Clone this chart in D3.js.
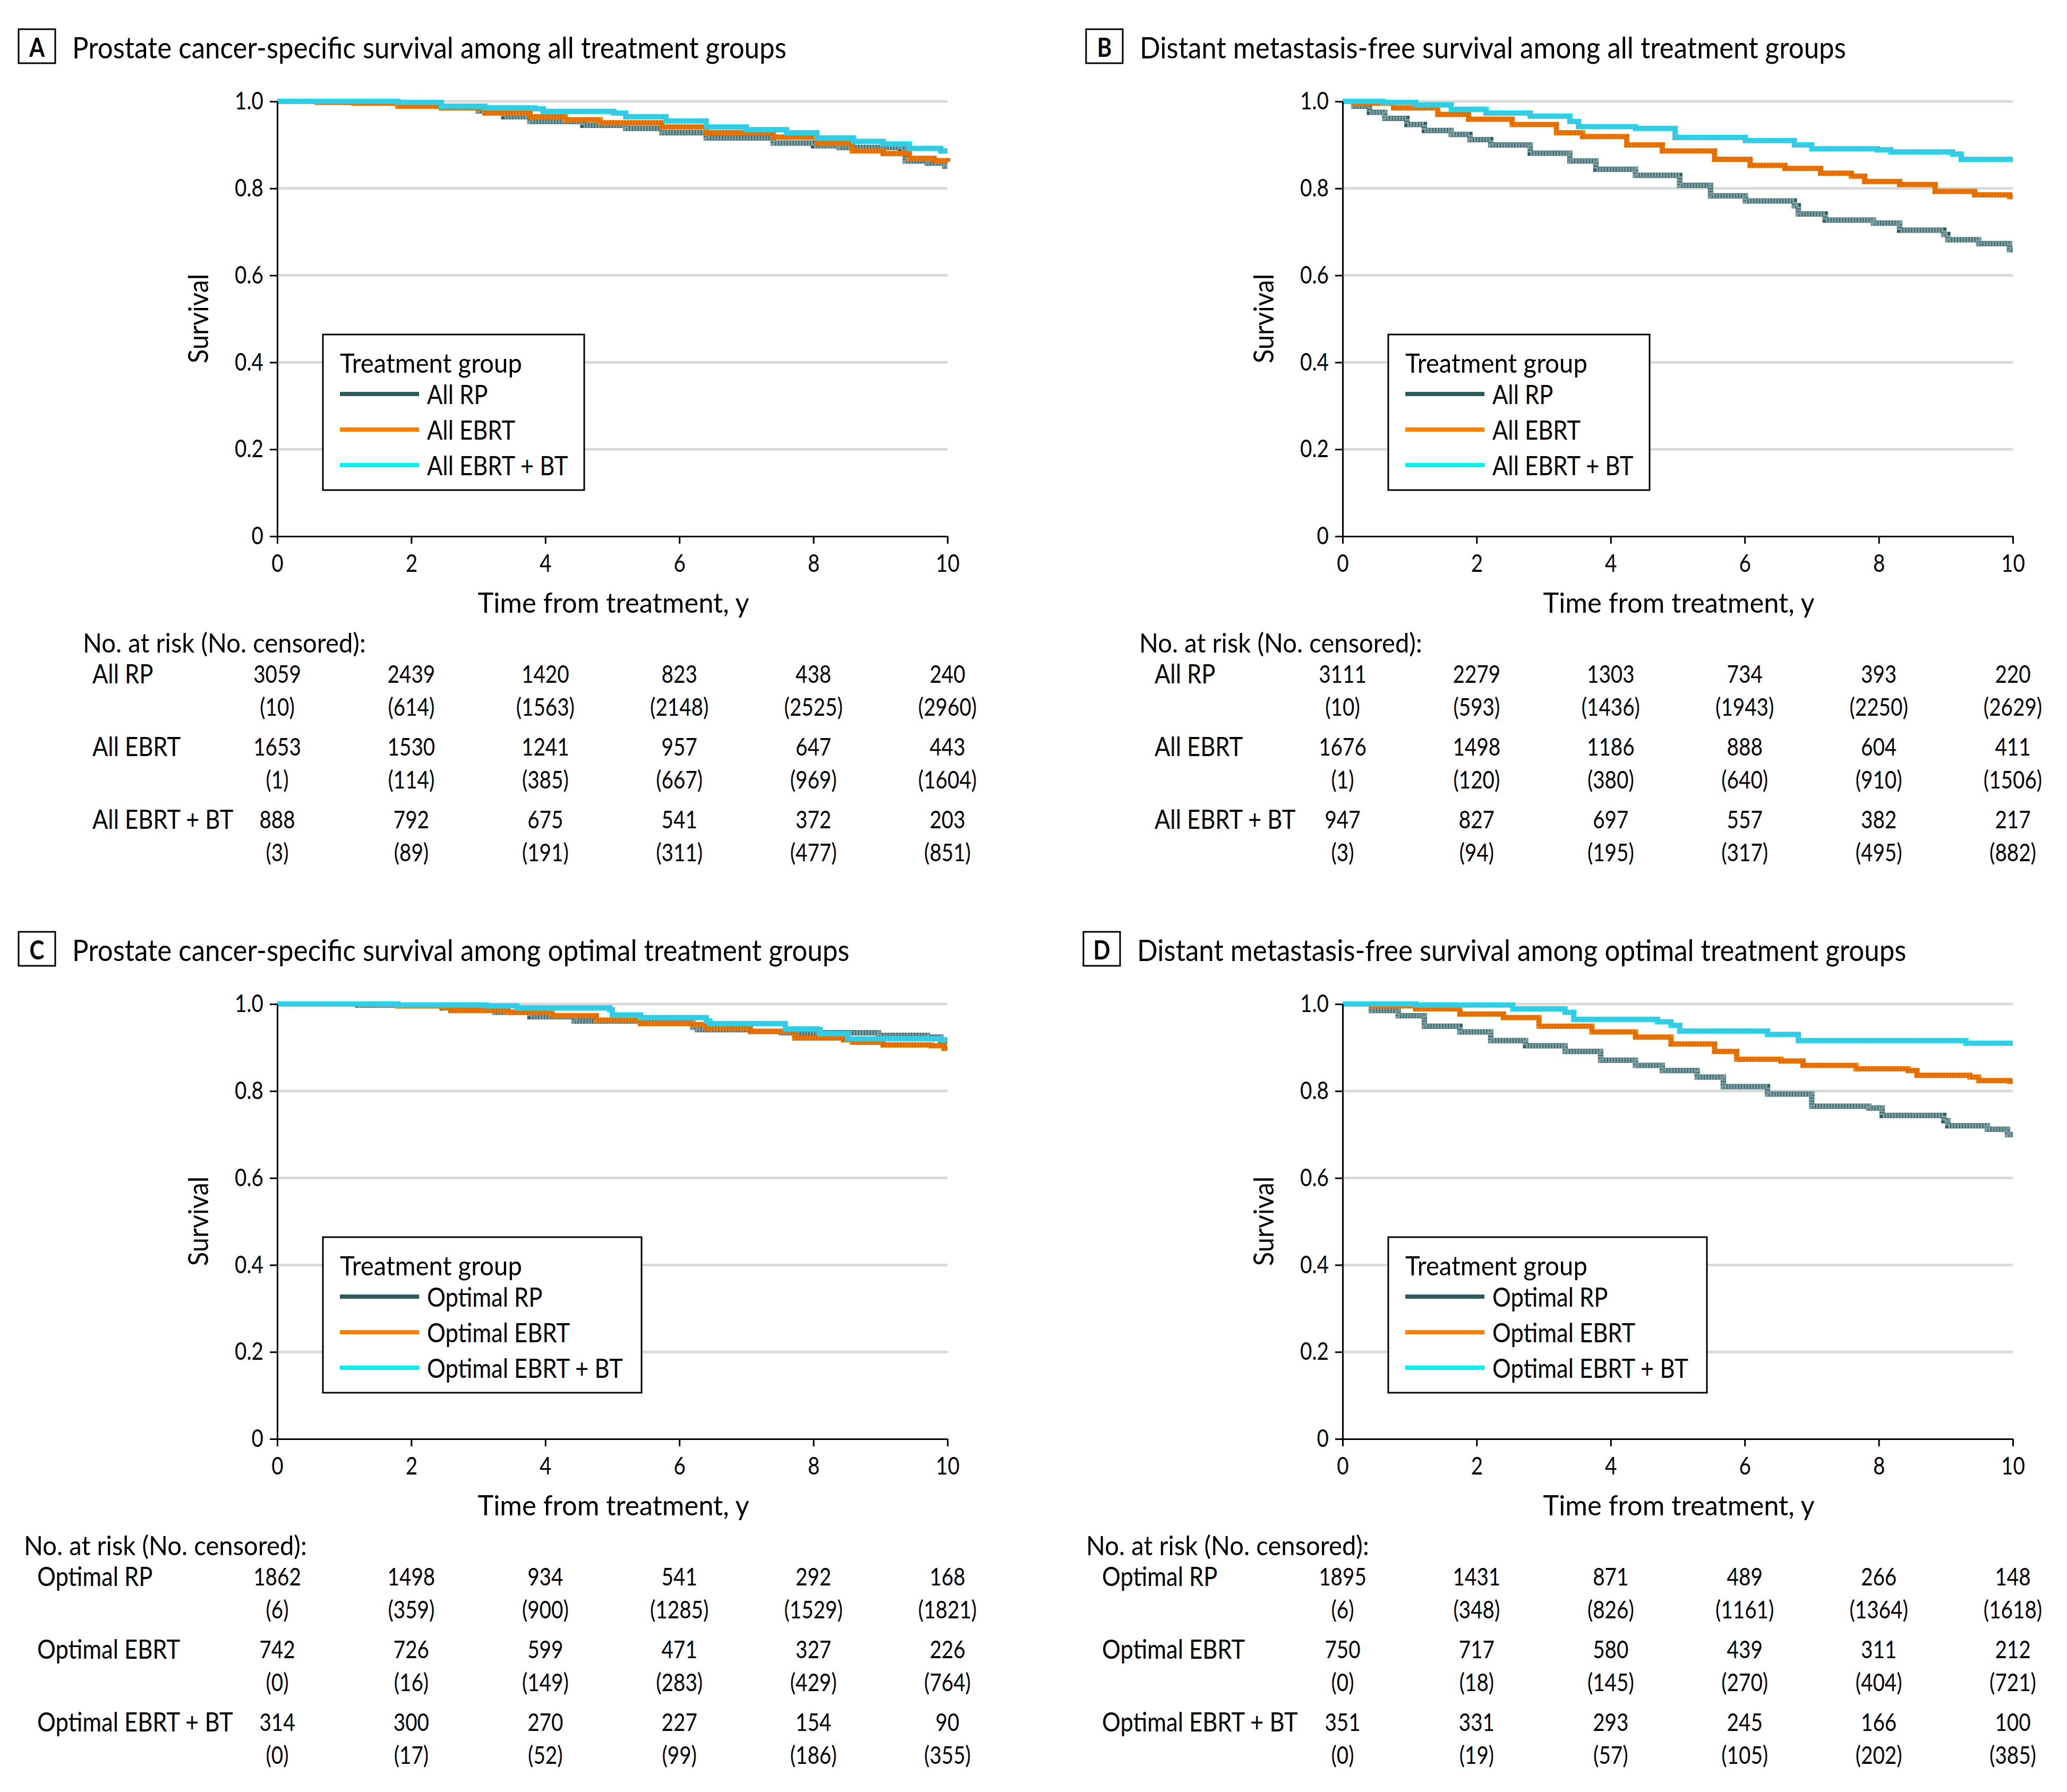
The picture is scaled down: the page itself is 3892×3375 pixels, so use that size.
<!DOCTYPE html>
<html><head><meta charset="utf-8">
<script src="https://cdn.jsdelivr.net/npm/d3@7"></script>
<style>body{margin:0;background:#fff}svg{display:block}</style>
</head><body>
<script>
// ---------- DATA ----------
const xTicks = [0, 2, 4, 6, 8, 10];
const yTicks = [0, 0.2, 0.4, 0.6, 0.8, 1.0];
const panelLetters = ["A", "B", "C", "D"];
const panelTitles = [
  "Prostate cancer-specific survival among all treatment groups",
  "Distant metastasis-free survival among all treatment groups",
  "Prostate cancer-specific survival among optimal treatment groups",
  "Distant metastasis-free survival among optimal treatment groups"
];
const groupsAll = ["All RP", "All EBRT", "All EBRT + BT"];
const groupsOpt = ["Optimal RP", "Optimal EBRT", "Optimal EBRT + BT"];

// Kaplan-Meier step points [time (y), survival]
const A_RP = [[0,1],[1.0,0.998],[1.8,0.994],[2.45,0.989],[3.0,0.978],[3.38,0.965],[3.77,0.954],[4.56,0.945],[5.2,0.938],[5.74,0.928],[6.4,0.916],[7.4,0.904],[8.0,0.898],[8.38,0.894],[9.3,0.890],[9.37,0.863],[9.7,0.858],[9.96,0.851]];
const A_EBRT = [[0,1],[0.6,0.998],[1.14,0.996],[1.8,0.989],[2.45,0.985],[3.1,0.973],[3.77,0.965],[4.3,0.958],[4.82,0.951],[5.74,0.941],[6.4,0.928],[7.4,0.918],[8.05,0.904],[8.58,0.886],[9.04,0.880],[9.43,0.869],[9.8,0.864],[10,0.861]];
const A_BT = [[0,1],[1.8,0.998],[2.45,0.989],[3.1,0.985],[3.84,0.983],[3.97,0.977],[5.02,0.973],[5.2,0.965],[5.8,0.955],[6.4,0.941],[7.0,0.935],[7.6,0.928],[8.05,0.916],[8.6,0.908],[9.04,0.902],[9.43,0.892],[9.9,0.886]];
const B_RP = [[0,1],[0.17,0.989],[0.4,0.975],[0.63,0.961],[0.96,0.947],[1.22,0.933],[1.62,0.924],[1.9,0.912],[2.21,0.900],[2.8,0.881],[3.39,0.863],[3.78,0.844],[4.37,0.830],[5.03,0.807],[5.49,0.783],[6.01,0.771],[6.74,0.760],[6.8,0.741],[7.2,0.727],[7.92,0.720],[8.31,0.704],[8.97,0.694],[9.03,0.682],[9.49,0.673],[9.95,0.659]];
const B_EBRT = [[0,1],[0.17,0.996],[0.76,0.985],[1.42,0.970],[1.88,0.959],[2.53,0.947],[3.19,0.928],[3.58,0.919],[4.24,0.900],[4.77,0.886],[5.55,0.867],[6.08,0.853],[6.6,0.846],[7.13,0.835],[7.59,0.828],[7.79,0.816],[8.31,0.809],[8.84,0.793],[9.43,0.785],[9.95,0.781]];
const B_BT = [[0,1],[0.6,0.998],[1.09,0.992],[1.62,0.982],[2.14,0.973],[2.8,0.966],[3.39,0.954],[3.52,0.942],[4.37,0.938],[4.96,0.917],[6.01,0.910],[6.74,0.900],[7.0,0.891],[7.98,0.889],[8.18,0.884],[9.1,0.879],[9.23,0.867]];
const C_RP = [[0,1],[1.2,0.998],[1.8,0.996],[2.46,0.991],[3.25,0.981],[3.77,0.971],[4.43,0.961],[5.42,0.957],[6.2,0.947],[6.27,0.941],[7.06,0.937],[7.52,0.934],[8.97,0.928],[9.7,0.924],[9.9,0.915]];
const C_EBRT = [[0,1],[1.8,0.996],[2.46,0.993],[2.59,0.985],[3.44,0.981],[4.1,0.973],[4.76,0.963],[5.42,0.955],[6.2,0.953],[6.4,0.945],[7.06,0.937],[7.72,0.922],[8.45,0.918],[8.58,0.912],[9.04,0.906],[9.76,0.904],[9.95,0.898]];
const C_BT = [[0,1],[1.8,0.998],[3.12,0.996],[3.58,0.991],[4.96,0.987],[5.0,0.975],[5.42,0.969],[6.4,0.961],[6.45,0.955],[7.52,0.955],[7.58,0.943],[8.05,0.941],[8.1,0.932],[8.51,0.920],[9.9,0.918]];
const D_RP = [[0,1],[0.43,0.985],[0.83,0.973],[1.22,0.949],[1.75,0.936],[2.21,0.916],[2.73,0.904],[3.32,0.891],[3.85,0.871],[4.37,0.859],[4.77,0.847],[5.29,0.832],[5.68,0.810],[6.34,0.793],[7.0,0.765],[7.85,0.761],[8.05,0.744],[8.97,0.732],[9.03,0.720],[9.62,0.712],[9.92,0.700]];
const D_EBRT = [[0,1],[0.43,0.996],[1.09,0.989],[1.75,0.977],[2.4,0.969],[2.93,0.949],[3.72,0.936],[4.37,0.924],[4.9,0.908],[5.55,0.891],[5.88,0.873],[6.54,0.869],[6.87,0.859],[7.66,0.851],[8.44,0.847],[8.57,0.836],[9.36,0.832],[9.49,0.824],[9.95,0.822]];
const D_BT = [[0,1],[1.09,0.998],[2.54,0.989],[3.32,0.981],[3.45,0.965],[4.7,0.959],[4.9,0.951],[5.03,0.938],[6.34,0.930],[6.8,0.916],[9.23,0.916],[9.3,0.910]];

// Numbers at risk (No. censored) at 0,2,4,6,8,10 y
const A_risk = [[3059,2439,1420,823,438,240],[1653,1530,1241,957,647,443],[888,792,675,541,372,203]];
const A_cens = [[10,614,1563,2148,2525,2960],[1,114,385,667,969,1604],[3,89,191,311,477,851]];
const B_risk = [[3111,2279,1303,734,393,220],[1676,1498,1186,888,604,411],[947,827,697,557,382,217]];
const B_cens = [[10,593,1436,1943,2250,2629],[1,120,380,640,910,1506],[3,94,195,317,495,882]];
const C_risk = [[1862,1498,934,541,292,168],[742,726,599,471,327,226],[314,300,270,227,154,90]];
const C_cens = [[6,359,900,1285,1529,1821],[0,16,149,283,429,764],[0,17,52,99,186,355]];
const D_risk = [[1895,1431,871,489,266,148],[750,717,580,439,311,212],[351,331,293,245,166,100]];
const D_cens = [[6,348,826,1161,1364,1618],[0,18,145,270,404,721],[0,19,57,105,202,385]];

// ---------- STYLE / LAYOUT ----------
const FONT = "Lato, 'Open Sans', 'DejaVu Sans', sans-serif";
const SX = 0.84;
const legendColors = ["#2d5a5a", "#ff8000", "#00f0f0"];
const markColors = ["#7a9ea4", "#dc6c00", "#45c0e0"];

const panels = [
  {letter: panelLetters[0], title: panelTitles[0], groups: groupsAll, curves: [A_RP, A_EBRT, A_BT], risk: A_risk, cens: A_cens,
   px: 522, py: 191, boxX: 35, riskHeadX: 156, rowLabX: 174, legW: 492},
  {letter: panelLetters[1], title: panelTitles[1], groups: groupsAll, curves: [B_RP, B_EBRT, B_BT], risk: B_risk, cens: B_cens,
   px: 2528, py: 191, boxX: 2045, riskHeadX: 2145, rowLabX: 2174, legW: 492},
  {letter: panelLetters[2], title: panelTitles[2], groups: groupsOpt, curves: [C_RP, C_EBRT, C_BT], risk: C_risk, cens: C_cens,
   px: 522, py: 1891, boxX: 35, riskHeadX: 45, rowLabX: 70, legW: 600},
  {letter: panelLetters[3], title: panelTitles[3], groups: groupsOpt, curves: [D_RP, D_EBRT, D_BT], risk: D_risk, cens: D_cens,
   px: 2528, py: 1891, boxX: 2040, riskHeadX: 2045, rowLabX: 2075, legW: 600}
];
const PW = 1262, PH = 819;

const W = 3892, H = 3375;
const svg = d3.select("body").append("svg").attr("width", W).attr("height", H).attr("viewBox", `0 0 ${W} ${H}`);
svg.append("rect").attr("width", W).attr("height", H).attr("fill", "#fff");

function T(g, x, y, s, o = {}) {
  const size = o.size || 46, anchor = o.anchor || "start";
  let tr = `translate(${x},${y})`;
  if (o.rotate) tr += ` rotate(${o.rotate})`;
  tr += ` scale(${o.sx || SX},1)`;
  return g.append("text").attr("transform", tr)
    .attr("font-family", FONT).attr("font-size", size).attr("font-weight", o.weight || 400)
    .attr("text-anchor", anchor).attr("dominant-baseline", "central").attr("fill", "#000").text(s);
}

panels.forEach(p => {
  const g = svg.append("g");
  const x = d3.scaleLinear().domain([0, 10]).range([p.px, p.px + PW]);
  const y = d3.scaleLinear().domain([0, 1]).range([p.py + PH, p.py]);
  const top = p.py - 191;

  // title box + title
  g.append("rect").attr("x", p.boxX).attr("y", top + 55).attr("width", 69).attr("height", 64)
    .attr("fill", "none").attr("stroke", "#000").attr("stroke-width", 3);
  T(g, p.boxX + 34.5, top + 88, p.letter, {size: 50, weight: 700, anchor: "middle"});
  T(g, p.boxX + 101, top + 88, p.title, {size: 56, sx: 0.912});

  // grid
  g.append("g").selectAll("line").data(yTicks.filter(d => d > 0)).join("line")
    .attr("x1", x(0)).attr("x2", x(10)).attr("y1", d => y(d)).attr("y2", d => y(d))
    .attr("stroke", "#d9d9d9").attr("stroke-width", 5);

  // curves
  const line = d3.line().x(d => x(d[0])).y(d => y(d[1])).curve(d3.curveStepAfter);
  p.curves.forEach((c, i) => {
    const pts = c.slice();
    const last = pts[pts.length - 1];
    if (last[0] < 10) pts.push([10, last[1]]);
    g.append("path").attr("d", line(pts)).attr("fill", "none")
      .attr("stroke", legendColors[i]).attr("stroke-width", 10);
    g.append("path").attr("d", line(pts)).attr("fill", "none")
      .attr("stroke", markColors[i]).attr("stroke-width", 9).attr("stroke-dasharray", "4,1.5");
  });

  // axes
  const ya = g.append("g").attr("transform", `translate(${x(0)},0)`)
    .call(d3.axisLeft(y).tickValues(yTicks).tickFormat(d => d === 0 ? "0" : d.toFixed(1)).tickSize(14).tickSizeOuter(0).tickPadding(12));
  const xa = g.append("g").attr("transform", `translate(0,${y(0)})`)
    .call(d3.axisBottom(x).tickValues(xTicks).tickFormat(d3.format("d")).tickSize(14).tickSizeOuter(0).tickPadding(20));
  [ya, xa].forEach(a => {
    a.selectAll("path,line").attr("stroke", "#000").attr("stroke-width", 3);
    a.selectAll("text").each(function () {
      const t = d3.select(this);
      const tx = +t.attr("x") || 0, ty = +t.attr("y") || 0;
      t.attr("x", 0).attr("y", 0).attr("transform", `translate(${tx},${ty}) scale(${SX},1)`);
    }).attr("font-family", FONT).attr("font-size", 46).attr("fill", "#000");
  });

  T(g, p.px - 150, top + 600, "Survival", {size: 52, sx: 0.94, anchor: "middle", rotate: -90});
  T(g, x(5) + 2, top + 1134, "Time from treatment, y", {size: 52, sx: 0.975, anchor: "middle"});

  // legend
  const lx = p.px + 86, ly = top + 630;
  g.append("rect").attr("x", lx).attr("y", ly).attr("width", p.legW).attr("height", 293)
    .attr("fill", "#fff").attr("stroke", "#000").attr("stroke-width", 3);
  T(g, lx + 32, ly + 52, "Treatment group", {size: 50, sx: 0.944});
  p.groups.forEach((name, i) => {
    const yy = ly + 112 + i * 67;
    g.append("line").attr("x1", lx + 32).attr("x2", lx + 181).attr("y1", yy).attr("y2", yy)
      .attr("stroke", legendColors[i]).attr("stroke-width", 8);
    T(g, lx + 196, yy, name, {size: 50, sx: 0.87});
  });

  // risk table
  T(g, p.riskHeadX, top + 1209, "No. at risk (No. censored):", {size: 50, sx: 0.944});
  p.groups.forEach((name, i) => {
    const yr = top + 1268 + i * 137;
    T(g, p.rowLabX, yr, name, {size: 50, sx: 0.87});
    xTicks.forEach((t, j) => {
      T(g, x(t), yr, String(p.risk[i][j]), {size: 46, anchor: "middle"});
      T(g, x(t), yr + 62, `(${p.cens[i][j]})`, {size: 46, anchor: "middle"});
    });
  });
});
</script>
</body></html>
